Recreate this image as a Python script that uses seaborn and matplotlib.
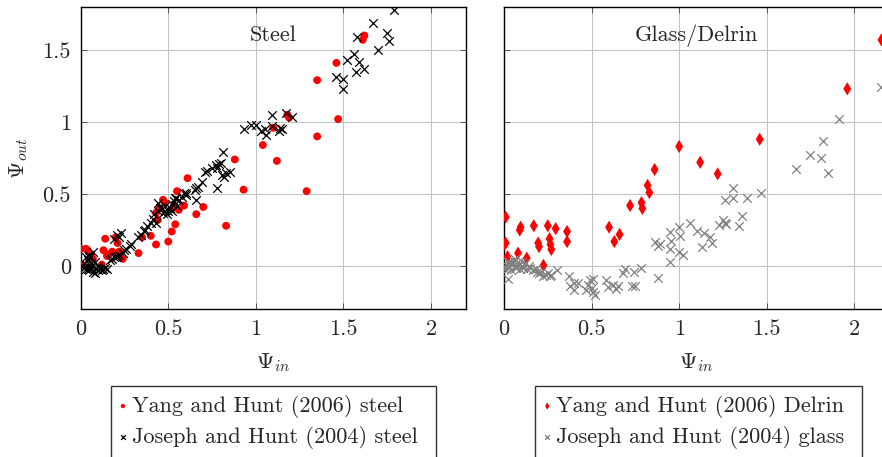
import numpy as np
import pandas as pd
import matplotlib
matplotlib.use("Agg")
import matplotlib.pyplot as plt
import seaborn as sns

# ---------------- data ----------------
steel_yang_x = [0.00, 0.00, 0.03, 0.04, 0.06, 0.07, 0.12, 0.13, 0.14, 0.15, 0.16, 0.18, 0.20, 0.21,
                0.22, 0.24, 0.33, 0.35, 0.40, 0.43, 0.43, 0.44, 0.45, 0.47, 0.48, 0.50, 0.52, 0.54,
                0.53, 0.55, 0.56, 0.59, 0.61, 0.66, 0.70, 0.83, 0.88, 0.93, 1.04, 1.10, 1.12, 1.18,
                1.19, 1.29, 1.35, 1.35, 1.46, 1.47, 1.61, 1.62]
steel_yang_y = [0.01, 0.12, 0.12, 0.11, 0.08, 0.05, 0.01, 0.11, 0.19, 0.07, 0.08, 0.10, 0.20, 0.16,
                0.10, 0.05, 0.09, 0.20, 0.21, 0.15, 0.37, 0.32, 0.40, 0.46, 0.44, 0.17, 0.24, 0.29,
                0.41, 0.52, 0.39, 0.42, 0.61, 0.36, 0.41, 0.28, 0.74, 0.53, 0.84, 0.96, 0.73, 1.05,
                1.03, 0.52, 1.29, 0.90, 1.41, 1.02, 1.57, 1.60]

steel_joseph_x = [0.01, 0.02, 0.03, 0.03, 0.04, 0.04, 0.05, 0.05, 0.06, 0.06, 0.07, 0.07, 0.08, 0.08,
                  0.09, 0.10, 0.11, 0.12, 0.13, 0.14, 0.15, 0.02, 0.03, 0.05, 0.06, 0.10,
                  0.17, 0.18, 0.19, 0.20, 0.21, 0.22, 0.24, 0.25, 0.26, 0.28, 0.29, 0.19, 0.21, 0.23,
                  0.22, 0.33, 0.345, 0.36, 0.365, 0.38, 0.40, 0.41, 0.42, 0.43, 0.44, 0.45, 0.44, 0.46,
                  0.47, 0.48, 0.49, 0.50, 0.51, 0.52, 0.53, 0.54, 0.52, 0.545, 0.55, 0.56, 0.58, 0.59,
                  0.60, 0.60, 0.65, 0.66, 0.66, 0.67, 0.69, 0.71, 0.72, 0.75, 0.77, 0.78, 0.79, 0.80,
                  0.81, 0.78, 0.82, 0.805, 0.83, 0.85,
                  0.935, 0.97, 1.00, 1.03, 1.06, 1.05, 1.09, 1.09, 1.135, 1.14, 1.15, 1.17, 1.205,
                  1.46, 1.50, 1.50, 1.52, 1.56, 1.57, 1.58, 1.59, 1.62, 1.67, 1.70, 1.75, 1.76, 1.79]
steel_joseph_y = [0.00, -0.01, -0.02, 0.01, 0.04, -0.02, 0.06, -0.03, -0.01, 0.02, 0.10, -0.04, -0.045, 0.03,
                  -0.02, -0.03, -0.02, -0.03, -0.02, -0.015, -0.02, 0.02, 0.06, 0.08, 0.00, 0.00,
                  0.04, 0.05, 0.06, 0.06, 0.07, 0.08, 0.09, 0.11, 0.12, 0.14, 0.15, 0.19, 0.215, 0.23,
                  0.20, 0.20, 0.215, 0.24, 0.25, 0.28, 0.30, 0.33, 0.36, 0.30, 0.38, 0.40, 0.44, 0.41,
                  0.37, 0.42, 0.36, 0.38, 0.40, 0.43, 0.45, 0.47, 0.38, 0.47, 0.42, 0.46, 0.48, 0.51,
                  0.49, 0.51, 0.53, 0.46, 0.54, 0.55, 0.58, 0.65, 0.66, 0.68, 0.70, 0.68, 0.71, 0.715,
                  0.79, 0.545, 0.62, 0.63, 0.645, 0.655,
                  0.95, 0.98, 0.98, 0.935, 0.91, 0.95, 0.97, 1.05, 0.935, 0.96, 0.95, 1.06, 1.035,
                  1.31, 1.30, 1.23, 1.43, 1.47, 1.35, 1.59, 1.415, 1.37, 1.69, 1.50, 1.62, 1.56, 1.78]

delrin_yang_x = [0.01, 0.00, 0.01, 0.02, 0.09, 0.095, 0.08, 0.13, 0.17, 0.195, 0.20, 0.25, 0.26, 0.265,
                 0.27, 0.295, 0.36, 0.36, 0.225, 0.60, 0.66, 0.63, 0.72, 0.785, 0.79, 0.82, 0.83, 0.86,
                 1.00, 1.12, 1.22, 1.46, 1.96, 2.155]
delrin_yang_y = [0.34, 0.15, 0.16, 0.065, 0.25, 0.27, 0.09, 0.055, 0.28, 0.16, 0.135, 0.28, 0.19, 0.15,
                 0.115, 0.26, 0.24, 0.17, 0.005, 0.27, 0.22, 0.17, 0.42, 0.44, 0.40, 0.56, 0.51, 0.67,
                 0.83, 0.72, 0.64, 0.88, 1.23, 1.57]

glass_joseph_x = [0.00, 0.01, 0.015, 0.02, 0.025, 0.03, 0.03, 0.04, 0.05, 0.05, 0.06, 0.06, 0.07, 0.08,
                  0.08, 0.09, 0.10, 0.10, 0.11, 0.12, 0.13, 0.14, 0.15, 0.165, 0.18, 0.19, 0.20, 0.21,
                  0.225, 0.24, 0.25, 0.26, 0.27, 0.30,
                  0.37, 0.375, 0.40, 0.40, 0.42, 0.47, 0.48, 0.49, 0.50, 0.51, 0.51, 0.52, 0.585, 0.595,
                  0.62, 0.64, 0.65, 0.68, 0.69, 0.73, 0.74, 0.75, 0.78, 0.88, 0.86, 0.88, 0.89, 0.95,
                  0.955, 0.95, 0.95, 1.00, 1.005, 1.00, 1.02, 1.06, 1.10, 1.13, 1.14, 1.175, 1.19, 1.23,
                  1.25, 1.26, 1.27, 1.26, 1.31, 1.31, 1.34, 1.36, 1.39, 1.47, 1.67, 1.745, 1.81, 1.82,
                  1.85, 1.915, 2.15]
glass_joseph_y = [-0.02, 0.01, -0.02, 0.03, -0.09, 0.00, 0.03, -0.03, 0.02, 0.04, 0.00, 0.05, -0.01, 0.01,
                  0.03, -0.02, 0.03, 0.00, -0.01, 0.02, -0.02, 0.00, -0.01, -0.03, -0.02, -0.04, -0.05, -0.04,
                  -0.07, -0.06, -0.05, -0.07, -0.06, -0.03,
                  -0.07, -0.14, -0.12, -0.165, -0.12, -0.165, -0.13, -0.10, -0.15, -0.09, -0.18, -0.20, -0.097, -0.144,
                  -0.13, -0.16, -0.14, -0.05, -0.02, -0.14, -0.04, -0.14, -0.01, -0.08, 0.165, 0.14, 0.15, 0.235,
                  0.176, 0.12, 0.03, 0.27, 0.21, 0.10, 0.075, 0.30, 0.24, 0.13, 0.23, 0.20, 0.16, 0.285,
                  0.32, 0.30, 0.29, 0.46, 0.54, 0.47, 0.28, 0.35, 0.47, 0.505, 0.675, 0.77, 0.75, 0.87,
                  0.645, 1.02, 1.24]

xtick_vals = [0, 0.5, 1, 1.5, 2]
xtick_labels = ["0", "0.5", "1", "1.5", "2"]
ytick_vals = [0, 0.5, 1, 1.5]
ytick_labels = ["0", "0.5", "1", "1.5"]

panel_titles = ["Steel", "Glass/Delrin"]
legend_labels_left = ["Yang and Hunt (2006) steel", "Joseph and Hunt (2004) steel"]
legend_labels_right = ["Yang and Hunt (2006) Delrin", "Joseph and Hunt (2004) glass"]

# ---------------- style ----------------
sns.set_theme(style="white")
plt.rcParams["font.family"] = ["cmr10", "DejaVu Serif"]
plt.rcParams["mathtext.fontset"] = "cm"
plt.rcParams["axes.formatter.use_mathtext"] = True
plt.rcParams["axes.unicode_minus"] = False

FS = 16
W, H = 882, 457
fig = plt.figure(figsize=(W / 100, H / 100), dpi=100)

def frac_x(px):
    return px / W

def frac_y(py):
    return 1 - py / H

ax_left_px, ax_right_px = 80.7, 466.0
ax_top_py, ax_bot_py = 6.7, 309.3
axw = frac_x(ax_right_px - ax_left_px)
axh = (ax_bot_py - ax_top_py) / H

ax1 = fig.add_axes([frac_x(ax_left_px), frac_y(ax_bot_py), axw, axh])
ax2 = fig.add_axes([frac_x(504.0), frac_y(ax_bot_py), axw, axh])

RED = "#ff0000"
GRAY = "#808080"

df_sy = pd.DataFrame({"x": steel_yang_x, "y": steel_yang_y})
df_sj = pd.DataFrame({"x": steel_joseph_x, "y": steel_joseph_y})
df_dy = pd.DataFrame({"x": delrin_yang_x, "y": delrin_yang_y})
df_gj = pd.DataFrame({"x": glass_joseph_x, "y": glass_joseph_y})

sns.scatterplot(data=df_sy, x="x", y="y", ax=ax1, marker="o", s=32, color=RED,
                edgecolor="none", linewidth=0, label=legend_labels_left[0], zorder=3)
sns.scatterplot(data=df_sj, x="x", y="y", ax=ax1, marker="x", s=38, color="black",
                linewidth=0.9, label=legend_labels_left[1], zorder=4)

sns.scatterplot(data=df_dy, x="x", y="y", ax=ax2, marker="d", s=45, color=RED,
                edgecolor="none", linewidth=0, label=legend_labels_right[0], zorder=3)
sns.scatterplot(data=df_gj, x="x", y="y", ax=ax2, marker="x", s=38, color=GRAY,
                linewidth=0.9, label=legend_labels_right[1], zorder=4)

for i, ax in enumerate([ax1, ax2]):
    ax.set_xlim(0, 2.2)
    ax.set_ylim(-0.3, 1.8)
    ax.set_xticks(xtick_vals, labels=xtick_labels)
    ax.set_yticks(ytick_vals, labels=ytick_labels if i == 0 else [])
    ax.grid(True, color="#c4c4c4", linewidth=0.8, zorder=0)
    ax.set_axisbelow(True)
    ax.tick_params(axis="both", which="major", direction="in", length=4, width=0.7,
                   color="#555555", top=True, right=True, bottom=True, left=True,
                   labelsize=FS, pad=7)
    for sp in ax.spines.values():
        sp.set_visible(True)
        sp.set_color("black")
        sp.set_linewidth(1.0)
    ax.set_xlabel(r"$\Psi_{in}$", fontsize=FS, labelpad=9)
    ax.set_ylabel("")
    ax.text(1.1, 1.6, panel_titles[i], ha="center", va="center", fontsize=FS, zorder=5)

ax1.set_ylabel(r"$\Psi_{out}$", fontsize=FS, labelpad=9)

leg_top = frac_y(386)
for ax, x0, x1 in [(ax1, 110.7, 436.0), (ax2, 535.0, 862.0)]:
    h, l = ax.get_legend_handles_labels()
    ax.legend(h, l, loc="upper left", mode="expand",
              bbox_to_anchor=(frac_x(x0), leg_top - 0.2, frac_x(x1 - x0), 0.2),
              bbox_transform=fig.transFigure, frameon=True, fancybox=False,
              edgecolor="#333333", framealpha=1, fontsize=FS, markerscale=0.55,
              handlelength=0.3, handletextpad=0.25, borderpad=0.4, labelspacing=0.36,
              borderaxespad=0)
    ax.get_legend().get_frame().set_linewidth(1.0)

fig.savefig("out.png", dpi=100)
